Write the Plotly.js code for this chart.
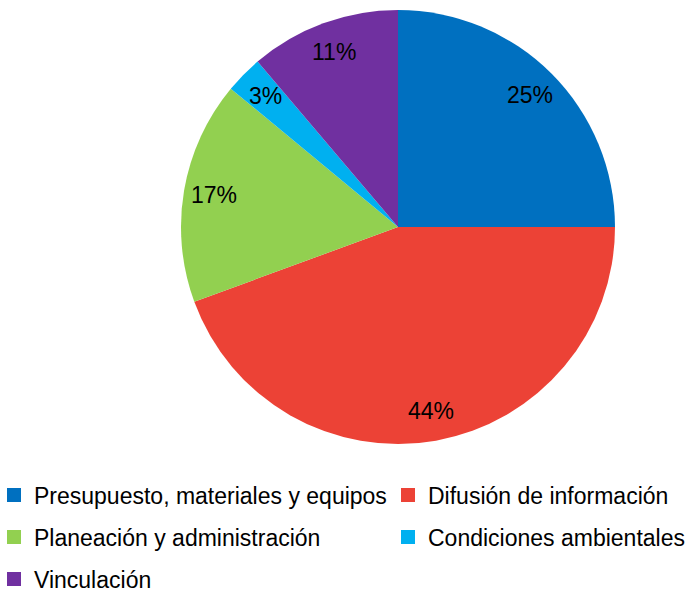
<!DOCTYPE html>
<html>
<head>
<meta charset="utf-8">
<script src="https://cdn.plot.ly/plotly-3.0.1.min.js"></script>
<style>html,body{margin:0;padding:0;background:#fff;}#chart{width:691px;height:592px;}</style>
</head>
<body>
<div id="chart"></div>
<script>
const labels = ["Presupuesto, materiales y equipos", "Difusión de información", "Planeación y administración", "Condiciones ambientales", "Vinculación"];
const values = [25.0, 44.4, 16.6, 2.8, 11.2];
const colors = ["#0070C0", "#EC4236", "#92D050", "#00B0F0", "#7030A0"];

const W = 691, H = 592;
const FONT = "Liberation Sans, Arial, sans-serif";
// pie geometry (layout)
const CX = 398, CY = 227, R = 217;
const LABEL_R = 0.86;

const pie = {
  type: "pie",
  labels: labels,
  values: values,
  sort: false,
  direction: "clockwise",
  rotation: 0,
  marker: {colors: colors, line: {width: 0}},
  textinfo: "none",
  showlegend: false,
  hoverinfo: "none",
  domain: {x: [(CX - R)/W, (CX + R)/W], y: [1 - (CY + R)/H, 1 - (CY - R)/H]}
};

// percentage labels placed along each slice's mid-angle
const total = values.reduce((a, b) => a + b, 0);
let cum = 0;
const annotations = values.map(v => {
  const mid = (cum + v/2) / total * 2 * Math.PI;
  cum += v;
  const px = CX + LABEL_R * R * Math.sin(mid);
  const py = CY - LABEL_R * R * Math.cos(mid);
  return {
    xref: "paper", yref: "paper",
    x: px / W, y: 1 - py / H,
    xanchor: "center", yanchor: "middle",
    text: Math.round(v / total * 100) + "%",
    showarrow: false,
    font: {family: FONT, size: 23, color: "#000"}
  };
});

// legend: one legend per entry so the two-column grid can be reproduced
const legendNames = ["legend", "legend2", "legend3", "legend4", "legend5"];
const legendX = [-6, 388, -6, 388, -6];
const legendY = [495, 495, 537, 537, 579];

const legendTraces = labels.map((lab, i) => ({
  type: "scatter",
  mode: "markers",
  x: [null], y: [null],
  name: lab,
  marker: {symbol: "square", size: 14, color: colors[i]},
  legend: legendNames[i],
  showlegend: true,
  hoverinfo: "none"
}));

const layout = {
  width: W, height: H,
  margin: {l: 0, r: 0, t: 0, b: 0, autoexpand: false},
  paper_bgcolor: "#fff", plot_bgcolor: "#fff",
  xaxis: {visible: false}, yaxis: {visible: false},
  showlegend: true,
  annotations: annotations
};
legendNames.forEach((nm, i) => {
  layout[nm] = {
    orientation: "v",
    xref: "paper", yref: "paper",
    x: legendX[i] / W, xanchor: "left",
    y: 1 - legendY[i] / H, yanchor: "middle",
    font: {family: FONT, size: 23, color: "#000"},
    bgcolor: "rgba(0,0,0,0)",
    borderwidth: 0,
    itemclick: false, itemdoubleclick: false
  };
});

Plotly.newPlot("chart", [pie].concat(legendTraces), layout, {displayModeBar: false, staticPlot: true});
</script>
</body>
</html>
